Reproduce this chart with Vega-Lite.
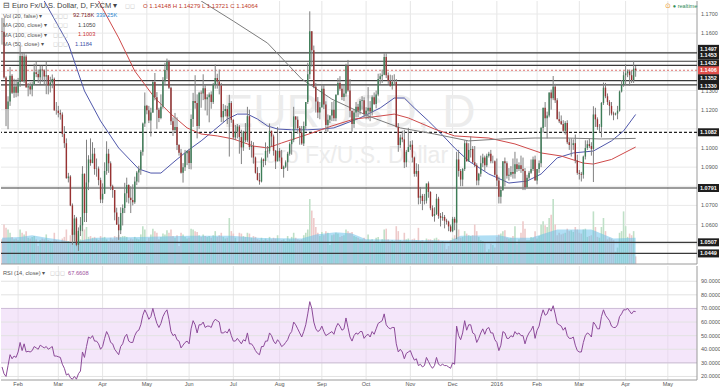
{
"$schema":"https://vega.github.io/schema/vega-lite/v6.json",
"padding":0,
"background":"#ffffff",
"spacing":0,
"config":{"view":{"stroke":null},"font":"Liberation Sans","axis":{"disable":true},"text":{"font":"Liberation Sans"}},
"datasets":{
"p":[
{"t":"2015-01-21","o":1.161,"h":1.168,"l":1.154,"c":1.1607,"v":300,"r":27},
{"t":"2015-01-22","o":1.1607,"h":1.1679,"l":1.1362,"c":1.1368,"v":480,"r":22},
{"t":"2015-01-23","o":1.1368,"h":1.1375,"l":1.1114,"c":1.1204,"v":440,"r":20},
{"t":"2015-01-26","o":1.1204,"h":1.127,"l":1.1098,"c":1.1243,"v":420,"r":28},
{"t":"2015-01-27","o":1.1243,"h":1.1423,"l":1.122,"c":1.1377,"v":380,"r":36},
{"t":"2015-01-28","o":1.1377,"h":1.1386,"l":1.1282,"c":1.1288,"v":330,"r":33},
{"t":"2015-01-29","o":1.1288,"h":1.1362,"l":1.1262,"c":1.1321,"v":300,"r":35},
{"t":"2015-01-30","o":1.1321,"h":1.1358,"l":1.1265,"c":1.1289,"v":310,"r":34},
{"t":"2015-02-02","o":1.1289,"h":1.1366,"l":1.127,"c":1.1345,"v":290,"r":38},
{"t":"2015-02-03","o":1.1345,"h":1.1534,"l":1.1319,"c":1.148,"v":420,"r":45},
{"t":"2015-02-04","o":1.148,"h":1.1497,"l":1.1345,"c":1.1348,"v":380,"r":39},
{"t":"2015-02-05","o":1.1348,"h":1.1498,"l":1.134,"c":1.1478,"v":360,"r":44},
{"t":"2015-02-06","o":1.1478,"h":1.1488,"l":1.1317,"c":1.1316,"v":400,"r":38},
{"t":"2015-02-09","o":1.1316,"h":1.1339,"l":1.127,"c":1.1323,"v":320,"r":38.5},
{"t":"2015-02-10","o":1.1323,"h":1.1343,"l":1.128,"c":1.1306,"v":310,"r":38},
{"t":"2015-02-11","o":1.1306,"h":1.1346,"l":1.127,"c":1.1333,"v":330,"r":39},
{"t":"2015-02-12","o":1.1333,"h":1.144,"l":1.133,"c":1.1395,"v":340,"r":42},
{"t":"2015-02-13","o":1.1395,"h":1.145,"l":1.137,"c":1.1387,"v":300,"r":41},
{"t":"2015-02-16","o":1.1387,"h":1.141,"l":1.134,"c":1.1369,"v":220,"r":40},
{"t":"2015-02-17","o":1.1369,"h":1.143,"l":1.1335,"c":1.141,"v":290,"r":43},
{"t":"2015-02-18","o":1.141,"h":1.143,"l":1.1345,"c":1.1405,"v":310,"r":42},
{"t":"2015-02-19","o":1.1405,"h":1.141,"l":1.133,"c":1.1373,"v":300,"r":41},
{"t":"2015-02-20","o":1.1373,"h":1.145,"l":1.1281,"c":1.138,"v":360,"r":42},
{"t":"2015-02-23","o":1.138,"h":1.138,"l":1.128,"c":1.1327,"v":290,"r":40},
{"t":"2015-02-24","o":1.1327,"h":1.1372,"l":1.129,"c":1.1342,"v":280,"r":41},
{"t":"2015-02-25","o":1.1342,"h":1.1384,"l":1.1312,"c":1.1361,"v":270,"r":42},
{"t":"2015-02-26","o":1.1361,"h":1.1368,"l":1.1196,"c":1.1196,"v":380,"r":35},
{"t":"2015-02-27","o":1.1196,"h":1.124,"l":1.1174,"c":1.1195,"v":290,"r":35},
{"t":"2015-03-02","o":1.1195,"h":1.122,"l":1.116,"c":1.1183,"v":260,"r":34.5},
{"t":"2015-03-03","o":1.1183,"h":1.12,"l":1.1148,"c":1.1175,"v":250,"r":34},
{"t":"2015-03-04","o":1.1175,"h":1.1186,"l":1.1057,"c":1.1073,"v":310,"r":29},
{"t":"2015-03-05","o":1.1073,"h":1.1114,"l":1.1,"c":1.1025,"v":330,"r":26},
{"t":"2015-03-06","o":1.1025,"h":1.105,"l":1.084,"c":1.0842,"v":420,"r":21},
{"t":"2015-03-09","o":1.0842,"h":1.087,"l":1.082,"c":1.0851,"v":280,"r":22},
{"t":"2015-03-10","o":1.0851,"h":1.0858,"l":1.0696,"c":1.07,"v":350,"r":19},
{"t":"2015-03-11","o":1.07,"h":1.071,"l":1.0494,"c":1.0546,"v":430,"r":18},
{"t":"2015-03-12","o":1.0546,"h":1.065,"l":1.051,"c":1.0632,"v":380,"r":20},
{"t":"2015-03-13","o":1.0632,"h":1.064,"l":1.0487,"c":1.0494,"v":400,"r":18},
{"t":"2015-03-16","o":1.0494,"h":1.0585,"l":1.0462,"c":1.0567,"v":360,"r":22},
{"t":"2015-03-17","o":1.0567,"h":1.0639,"l":1.054,"c":1.0596,"v":300,"r":24},
{"t":"2015-03-18","o":1.0596,"h":1.0905,"l":1.0565,"c":1.0865,"v":470,"r":38},
{"t":"2015-03-19","o":1.0865,"h":1.0867,"l":1.0613,"c":1.066,"v":420,"r":34},
{"t":"2015-03-20","o":1.066,"h":1.1043,"l":1.0613,"c":1.082,"v":450,"r":42},
{"t":"2015-03-23","o":1.082,"h":1.0962,"l":1.078,"c":1.094,"v":330,"r":49},
{"t":"2015-03-24","o":1.094,"h":1.105,"l":1.0907,"c":1.0922,"v":340,"r":48},
{"t":"2015-03-25","o":1.0922,"h":1.103,"l":1.092,"c":1.097,"v":320,"r":50},
{"t":"2015-03-26","o":1.097,"h":1.1,"l":1.086,"c":1.089,"v":330,"r":46},
{"t":"2015-03-27","o":1.089,"h":1.0945,"l":1.085,"c":1.0892,"v":310,"r":46},
{"t":"2015-03-30","o":1.0892,"h":1.0903,"l":1.0805,"c":1.0832,"v":290,"r":44},
{"t":"2015-03-31","o":1.0832,"h":1.0845,"l":1.0712,"c":1.0731,"v":340,"r":40},
{"t":"2015-04-01","o":1.0731,"h":1.0815,"l":1.0712,"c":1.0761,"v":320,"r":42},
{"t":"2015-04-02","o":1.0761,"h":1.0925,"l":1.076,"c":1.088,"v":330,"r":48},
{"t":"2015-04-03","o":1.088,"h":1.1035,"l":1.086,"c":1.097,"v":300,"r":53},
{"t":"2015-04-06","o":1.097,"h":1.0995,"l":1.087,"c":1.092,"v":280,"r":50},
{"t":"2015-04-07","o":1.092,"h":1.093,"l":1.078,"c":1.08,"v":320,"r":45},
{"t":"2015-04-08","o":1.08,"h":1.0808,"l":1.074,"c":1.078,"v":300,"r":44},
{"t":"2015-04-09","o":1.078,"h":1.078,"l":1.0622,"c":1.0663,"v":340,"r":40},
{"t":"2015-04-10","o":1.0663,"h":1.0688,"l":1.0598,"c":1.06,"v":330,"r":38},
{"t":"2015-04-13","o":1.06,"h":1.064,"l":1.052,"c":1.057,"v":350,"r":36},
{"t":"2015-04-14","o":1.057,"h":1.069,"l":1.055,"c":1.066,"v":330,"r":42},
{"t":"2015-04-15","o":1.066,"h":1.0705,"l":1.0595,"c":1.0686,"v":340,"r":44},
{"t":"2015-04-16","o":1.0686,"h":1.0818,"l":1.066,"c":1.0763,"v":340,"r":49},
{"t":"2015-04-17","o":1.0763,"h":1.0845,"l":1.0716,"c":1.0807,"v":330,"r":51},
{"t":"2015-04-20","o":1.0807,"h":1.081,"l":1.071,"c":1.074,"v":290,"r":46},
{"t":"2015-04-21","o":1.074,"h":1.08,"l":1.066,"c":1.0728,"v":310,"r":45},
{"t":"2015-04-22","o":1.0728,"h":1.081,"l":1.07,"c":1.0716,"v":300,"r":45},
{"t":"2015-04-23","o":1.0716,"h":1.085,"l":1.0708,"c":1.0825,"v":330,"r":50},
{"t":"2015-04-24","o":1.0825,"h":1.088,"l":1.0806,"c":1.0872,"v":310,"r":53},
{"t":"2015-04-27","o":1.0872,"h":1.0907,"l":1.082,"c":1.0888,"v":300,"r":54},
{"t":"2015-04-28","o":1.0888,"h":1.099,"l":1.086,"c":1.098,"v":360,"r":58},
{"t":"2015-04-29","o":1.098,"h":1.1133,"l":1.096,"c":1.1128,"v":460,"r":65},
{"t":"2015-04-30","o":1.1128,"h":1.129,"l":1.111,"c":1.1221,"v":420,"r":69},
{"t":"2015-05-01","o":1.1221,"h":1.1225,"l":1.1176,"c":1.1197,"v":280,"r":66},
{"t":"2015-05-04","o":1.1197,"h":1.122,"l":1.113,"c":1.1144,"v":320,"r":62},
{"t":"2015-05-05","o":1.1144,"h":1.121,"l":1.106,"c":1.1185,"v":360,"r":64},
{"t":"2015-05-06","o":1.1185,"h":1.135,"l":1.1183,"c":1.1345,"v":430,"r":70},
{"t":"2015-05-07","o":1.1345,"h":1.1392,"l":1.1249,"c":1.1265,"v":400,"r":64},
{"t":"2015-05-08","o":1.1265,"h":1.1292,"l":1.11,"c":1.12,"v":380,"r":59},
{"t":"2015-05-11","o":1.12,"h":1.121,"l":1.1135,"c":1.1157,"v":300,"r":56},
{"t":"2015-05-12","o":1.1157,"h":1.128,"l":1.115,"c":1.1215,"v":330,"r":59},
{"t":"2015-05-13","o":1.1215,"h":1.137,"l":1.1205,"c":1.1349,"v":370,"r":64},
{"t":"2015-05-14","o":1.1349,"h":1.1445,"l":1.133,"c":1.1408,"v":360,"r":67},
{"t":"2015-05-15","o":1.1408,"h":1.1467,"l":1.1361,"c":1.145,"v":410,"r":69},
{"t":"2015-05-18","o":1.145,"h":1.146,"l":1.1308,"c":1.1315,"v":380,"r":62},
{"t":"2015-05-19","o":1.1315,"h":1.132,"l":1.112,"c":1.114,"v":420,"r":53},
{"t":"2015-05-20","o":1.114,"h":1.116,"l":1.1063,"c":1.1094,"v":340,"r":50},
{"t":"2015-05-21","o":1.1094,"h":1.1183,"l":1.108,"c":1.111,"v":320,"r":51},
{"t":"2015-05-22","o":1.111,"h":1.116,"l":1.0989,"c":1.1015,"v":350,"r":47},
{"t":"2015-05-25","o":1.1015,"h":1.102,"l":1.096,"c":1.0975,"v":220,"r":46},
{"t":"2015-05-26","o":1.0975,"h":1.0995,"l":1.0866,"c":1.087,"v":380,"r":41},
{"t":"2015-05-27","o":1.087,"h":1.0921,"l":1.0819,"c":1.0899,"v":360,"r":43},
{"t":"2015-05-28","o":1.0899,"h":1.099,"l":1.088,"c":1.0973,"v":330,"r":45},
{"t":"2015-05-29","o":1.0973,"h":1.098,"l":1.091,"c":1.0986,"v":310,"r":46},
{"t":"2015-06-01","o":1.0986,"h":1.0996,"l":1.089,"c":1.0921,"v":320,"r":44},
{"t":"2015-06-02","o":1.0921,"h":1.1175,"l":1.0888,"c":1.1152,"v":430,"r":55},
{"t":"2015-06-03","o":1.1152,"h":1.1288,"l":1.111,"c":1.1245,"v":420,"r":61},
{"t":"2015-06-04","o":1.1245,"h":1.138,"l":1.1205,"c":1.1235,"v":400,"r":58},
{"t":"2015-06-05","o":1.1235,"h":1.128,"l":1.105,"c":1.1115,"v":390,"r":52},
{"t":"2015-06-08","o":1.1115,"h":1.1294,"l":1.11,"c":1.1289,"v":350,"r":58},
{"t":"2015-06-09","o":1.1289,"h":1.13,"l":1.121,"c":1.1284,"v":330,"r":58},
{"t":"2015-06-10","o":1.1284,"h":1.1385,"l":1.125,"c":1.1312,"v":360,"r":60},
{"t":"2015-06-11","o":1.1312,"h":1.133,"l":1.1196,"c":1.1255,"v":340,"r":56},
{"t":"2015-06-12","o":1.1255,"h":1.128,"l":1.117,"c":1.1265,"v":330,"r":57},
{"t":"2015-06-15","o":1.1265,"h":1.129,"l":1.1134,"c":1.128,"v":340,"r":57},
{"t":"2015-06-16","o":1.128,"h":1.1296,"l":1.1205,"c":1.124,"v":320,"r":56},
{"t":"2015-06-17","o":1.124,"h":1.134,"l":1.123,"c":1.133,"v":350,"r":60},
{"t":"2015-06-18","o":1.133,"h":1.1436,"l":1.131,"c":1.1366,"v":400,"r":62},
{"t":"2015-06-19","o":1.1366,"h":1.1388,"l":1.131,"c":1.1347,"v":330,"r":61},
{"t":"2015-06-22","o":1.1347,"h":1.141,"l":1.128,"c":1.1327,"v":350,"r":60},
{"t":"2015-06-23","o":1.1327,"h":1.134,"l":1.1135,"c":1.116,"v":380,"r":52},
{"t":"2015-06-24","o":1.116,"h":1.123,"l":1.1135,"c":1.1193,"v":330,"r":52},
{"t":"2015-06-25","o":1.1193,"h":1.1223,"l":1.1165,"c":1.1203,"v":310,"r":53},
{"t":"2015-06-26","o":1.1203,"h":1.122,"l":1.1125,"c":1.1165,"v":320,"r":52},
{"t":"2015-06-29","o":1.1165,"h":1.1278,"l":1.0955,"c":1.1235,"v":560,"r":55},
{"t":"2015-06-30","o":1.1235,"h":1.1245,"l":1.1131,"c":1.1147,"v":400,"r":50},
{"t":"2015-07-01","o":1.1147,"h":1.115,"l":1.1043,"c":1.1055,"v":370,"r":46},
{"t":"2015-07-02","o":1.1055,"h":1.112,"l":1.1041,"c":1.1085,"v":320,"r":46},
{"t":"2015-07-03","o":1.1085,"h":1.1125,"l":1.105,"c":1.1112,"v":260,"r":48},
{"t":"2015-07-06","o":1.1112,"h":1.112,"l":1.097,"c":1.1057,"v":380,"r":46},
{"t":"2015-07-07","o":1.1057,"h":1.1095,"l":1.0916,"c":1.1003,"v":370,"r":44},
{"t":"2015-07-08","o":1.1003,"h":1.109,"l":1.0985,"c":1.1085,"v":340,"r":47},
{"t":"2015-07-09","o":1.1085,"h":1.113,"l":1.103,"c":1.104,"v":330,"r":46},
{"t":"2015-07-10","o":1.104,"h":1.1215,"l":1.103,"c":1.1166,"v":380,"r":52},
{"t":"2015-07-13","o":1.1166,"h":1.12,"l":1.099,"c":1.1005,"v":370,"r":44},
{"t":"2015-07-14","o":1.1005,"h":1.1037,"l":1.095,"c":1.101,"v":320,"r":44},
{"t":"2015-07-15","o":1.101,"h":1.103,"l":1.0918,"c":1.095,"v":340,"r":42},
{"t":"2015-07-16","o":1.095,"h":1.0955,"l":1.0866,"c":1.087,"v":330,"r":39},
{"t":"2015-07-17","o":1.087,"h":1.09,"l":1.083,"c":1.0833,"v":300,"r":37},
{"t":"2015-07-20","o":1.0833,"h":1.0869,"l":1.0808,"c":1.0825,"v":290,"r":36},
{"t":"2015-07-21","o":1.0825,"h":1.095,"l":1.082,"c":1.094,"v":320,"r":42},
{"t":"2015-07-22","o":1.094,"h":1.0945,"l":1.09,"c":1.0932,"v":290,"r":42},
{"t":"2015-07-23","o":1.0932,"h":1.1029,"l":1.091,"c":1.0985,"v":310,"r":46},
{"t":"2015-07-24","o":1.0985,"h":1.101,"l":1.095,"c":1.0983,"v":290,"r":46},
{"t":"2015-07-27","o":1.0983,"h":1.1128,"l":1.097,"c":1.109,"v":330,"r":52},
{"t":"2015-07-28","o":1.109,"h":1.109,"l":1.101,"c":1.106,"v":300,"r":50},
{"t":"2015-07-29","o":1.106,"h":1.107,"l":1.096,"c":1.0985,"v":320,"r":46},
{"t":"2015-07-30","o":1.0985,"h":1.099,"l":1.089,"c":1.093,"v":310,"r":44},
{"t":"2015-07-31","o":1.093,"h":1.111,"l":1.093,"c":1.0985,"v":350,"r":47},
{"t":"2015-08-03","o":1.0985,"h":1.1,"l":1.093,"c":1.095,"v":280,"r":45},
{"t":"2015-08-04","o":1.095,"h":1.099,"l":1.089,"c":1.089,"v":290,"r":42},
{"t":"2015-08-05","o":1.089,"h":1.0908,"l":1.0845,"c":1.0902,"v":300,"r":43},
{"t":"2015-08-06","o":1.0902,"h":1.0935,"l":1.0895,"c":1.0925,"v":280,"r":45},
{"t":"2015-08-07","o":1.0925,"h":1.098,"l":1.088,"c":1.097,"v":340,"r":47},
{"t":"2015-08-10","o":1.097,"h":1.103,"l":1.096,"c":1.102,"v":300,"r":51},
{"t":"2015-08-11","o":1.102,"h":1.108,"l":1.0965,"c":1.1042,"v":330,"r":53},
{"t":"2015-08-12","o":1.1042,"h":1.1215,"l":1.103,"c":1.1165,"v":380,"r":60},
{"t":"2015-08-13","o":1.1165,"h":1.1165,"l":1.11,"c":1.1148,"v":320,"r":58},
{"t":"2015-08-14","o":1.1148,"h":1.1165,"l":1.1075,"c":1.1105,"v":300,"r":55},
{"t":"2015-08-17","o":1.1105,"h":1.1115,"l":1.1017,"c":1.1081,"v":290,"r":52},
{"t":"2015-08-18","o":1.1081,"h":1.1115,"l":1.1016,"c":1.1024,"v":300,"r":49},
{"t":"2015-08-19","o":1.1024,"h":1.1138,"l":1.101,"c":1.1115,"v":350,"r":53},
{"t":"2015-08-20","o":1.1115,"h":1.124,"l":1.11,"c":1.124,"v":380,"r":58},
{"t":"2015-08-21","o":1.124,"h":1.1445,"l":1.123,"c":1.1385,"v":420,"r":66},
{"t":"2015-08-24","o":1.1385,"h":1.1714,"l":1.136,"c":1.161,"v":790,"r":75},
{"t":"2015-08-25","o":1.161,"h":1.161,"l":1.1425,"c":1.151,"v":650,"r":70},
{"t":"2015-08-26","o":1.151,"h":1.1535,"l":1.1312,"c":1.132,"v":560,"r":60},
{"t":"2015-08-27","o":1.132,"h":1.134,"l":1.1185,"c":1.1243,"v":450,"r":55},
{"t":"2015-08-28","o":1.1243,"h":1.1266,"l":1.1156,"c":1.1185,"v":380,"r":53},
{"t":"2015-08-31","o":1.1185,"h":1.124,"l":1.115,"c":1.1213,"v":340,"r":54},
{"t":"2015-09-01","o":1.1213,"h":1.1332,"l":1.121,"c":1.131,"v":390,"r":57},
{"t":"2015-09-02","o":1.131,"h":1.133,"l":1.1203,"c":1.1227,"v":350,"r":53},
{"t":"2015-09-03","o":1.1227,"h":1.1244,"l":1.1087,"c":1.112,"v":400,"r":50},
{"t":"2015-09-04","o":1.112,"h":1.1175,"l":1.1085,"c":1.1148,"v":380,"r":51},
{"t":"2015-09-07","o":1.1148,"h":1.117,"l":1.113,"c":1.117,"v":230,"r":52},
{"t":"2015-09-08","o":1.117,"h":1.124,"l":1.114,"c":1.12,"v":350,"r":53},
{"t":"2015-09-09","o":1.12,"h":1.1245,"l":1.114,"c":1.1155,"v":360,"r":51},
{"t":"2015-09-10","o":1.1155,"h":1.128,"l":1.114,"c":1.1278,"v":380,"r":56},
{"t":"2015-09-11","o":1.1278,"h":1.1365,"l":1.1275,"c":1.134,"v":370,"r":59},
{"t":"2015-09-14","o":1.134,"h":1.1375,"l":1.13,"c":1.131,"v":330,"r":57},
{"t":"2015-09-15","o":1.131,"h":1.133,"l":1.125,"c":1.1266,"v":340,"r":54},
{"t":"2015-09-16","o":1.1266,"h":1.133,"l":1.1245,"c":1.1285,"v":350,"r":55},
{"t":"2015-09-17","o":1.1285,"h":1.144,"l":1.1268,"c":1.143,"v":420,"r":63},
{"t":"2015-09-18","o":1.143,"h":1.146,"l":1.1294,"c":1.13,"v":400,"r":56},
{"t":"2015-09-21","o":1.13,"h":1.136,"l":1.116,"c":1.1195,"v":380,"r":49},
{"t":"2015-09-22","o":1.1195,"h":1.1195,"l":1.1085,"c":1.1125,"v":390,"r":46},
{"t":"2015-09-23","o":1.1125,"h":1.1204,"l":1.1105,"c":1.1185,"v":340,"r":50},
{"t":"2015-09-24","o":1.1185,"h":1.124,"l":1.116,"c":1.1215,"v":330,"r":52},
{"t":"2015-09-25","o":1.1215,"h":1.123,"l":1.116,"c":1.1195,"v":320,"r":51},
{"t":"2015-09-28","o":1.1195,"h":1.1255,"l":1.1175,"c":1.1245,"v":300,"r":53},
{"t":"2015-09-29","o":1.1245,"h":1.127,"l":1.12,"c":1.125,"v":300,"r":53},
{"t":"2015-09-30","o":1.125,"h":1.1265,"l":1.116,"c":1.1178,"v":320,"r":48},
{"t":"2015-10-01","o":1.1178,"h":1.1213,"l":1.115,"c":1.1195,"v":290,"r":50},
{"t":"2015-10-02","o":1.1195,"h":1.1318,"l":1.115,"c":1.121,"v":360,"r":51},
{"t":"2015-10-05","o":1.121,"h":1.1245,"l":1.114,"c":1.119,"v":290,"r":49},
{"t":"2015-10-06","o":1.119,"h":1.1275,"l":1.117,"c":1.1265,"v":300,"r":53},
{"t":"2015-10-07","o":1.1265,"h":1.129,"l":1.1225,"c":1.123,"v":280,"r":51},
{"t":"2015-10-08","o":1.123,"h":1.13,"l":1.1207,"c":1.128,"v":320,"r":55},
{"t":"2015-10-09","o":1.128,"h":1.1388,"l":1.127,"c":1.136,"v":330,"r":59},
{"t":"2015-10-12","o":1.136,"h":1.139,"l":1.1335,"c":1.1375,"v":260,"r":60},
{"t":"2015-10-13","o":1.1375,"h":1.141,"l":1.134,"c":1.1382,"v":300,"r":61},
{"t":"2015-10-14","o":1.1382,"h":1.1495,"l":1.138,"c":1.1475,"v":420,"r":66},
{"t":"2015-10-15","o":1.1475,"h":1.1495,"l":1.1365,"c":1.138,"v":430,"r":58},
{"t":"2015-10-16","o":1.138,"h":1.1395,"l":1.1335,"c":1.135,"v":300,"r":56},
{"t":"2015-10-19","o":1.135,"h":1.1383,"l":1.132,"c":1.1325,"v":280,"r":55},
{"t":"2015-10-20","o":1.1325,"h":1.138,"l":1.1305,"c":1.1345,"v":290,"r":56},
{"t":"2015-10-21","o":1.1345,"h":1.1385,"l":1.133,"c":1.1345,"v":280,"r":56},
{"t":"2015-10-22","o":1.1345,"h":1.136,"l":1.1106,"c":1.111,"v":460,"r":44},
{"t":"2015-10-23","o":1.111,"h":1.113,"l":1.098,"c":1.1015,"v":400,"r":38},
{"t":"2015-10-26","o":1.1015,"h":1.107,"l":1.1,"c":1.1055,"v":290,"r":40},
{"t":"2015-10-27","o":1.1055,"h":1.109,"l":1.103,"c":1.1045,"v":280,"r":38},
{"t":"2015-10-28","o":1.1045,"h":1.1095,"l":1.0895,"c":1.0925,"v":380,"r":33},
{"t":"2015-10-29","o":1.0925,"h":1.099,"l":1.09,"c":1.098,"v":300,"r":37},
{"t":"2015-10-30","o":1.098,"h":1.1105,"l":1.098,"c":1.1005,"v":310,"r":38},
{"t":"2015-11-02","o":1.1005,"h":1.1036,"l":1.099,"c":1.1017,"v":260,"r":39},
{"t":"2015-11-03","o":1.1017,"h":1.104,"l":1.0925,"c":1.095,"v":300,"r":35},
{"t":"2015-11-04","o":1.095,"h":1.0955,"l":1.085,"c":1.0865,"v":310,"r":32},
{"t":"2015-11-05","o":1.0865,"h":1.092,"l":1.085,"c":1.088,"v":290,"r":33},
{"t":"2015-11-06","o":1.088,"h":1.0915,"l":1.0705,"c":1.074,"v":440,"r":28},
{"t":"2015-11-09","o":1.074,"h":1.0796,"l":1.0708,"c":1.075,"v":280,"r":29},
{"t":"2015-11-10","o":1.075,"h":1.076,"l":1.0675,"c":1.0723,"v":290,"r":27},
{"t":"2015-11-11","o":1.0723,"h":1.076,"l":1.0705,"c":1.0725,"v":270,"r":28},
{"t":"2015-11-12","o":1.0725,"h":1.0808,"l":1.071,"c":1.0815,"v":310,"r":34},
{"t":"2015-11-13","o":1.0815,"h":1.0825,"l":1.074,"c":1.077,"v":300,"r":31},
{"t":"2015-11-16","o":1.077,"h":1.0774,"l":1.0675,"c":1.0685,"v":300,"r":28},
{"t":"2015-11-17","o":1.0685,"h":1.07,"l":1.064,"c":1.0645,"v":290,"r":26},
{"t":"2015-11-18","o":1.0645,"h":1.069,"l":1.0615,"c":1.0655,"v":310,"r":28},
{"t":"2015-11-19","o":1.0655,"h":1.076,"l":1.065,"c":1.0735,"v":320,"r":34},
{"t":"2015-11-20","o":1.0735,"h":1.0745,"l":1.063,"c":1.0645,"v":300,"r":29},
{"t":"2015-11-23","o":1.0645,"h":1.066,"l":1.059,"c":1.0635,"v":270,"r":28},
{"t":"2015-11-24","o":1.0635,"h":1.0665,"l":1.062,"c":1.064,"v":280,"r":29},
{"t":"2015-11-25","o":1.064,"h":1.065,"l":1.058,"c":1.062,"v":260,"r":28},
{"t":"2015-11-26","o":1.062,"h":1.063,"l":1.06,"c":1.0615,"v":180,"r":28},
{"t":"2015-11-27","o":1.0615,"h":1.062,"l":1.0565,"c":1.059,"v":220,"r":27},
{"t":"2015-11-30","o":1.059,"h":1.06,"l":1.056,"c":1.0565,"v":290,"r":26},
{"t":"2015-12-01","o":1.0565,"h":1.064,"l":1.056,"c":1.063,"v":320,"r":30},
{"t":"2015-12-02","o":1.063,"h":1.064,"l":1.057,"c":1.061,"v":350,"r":29},
{"t":"2015-12-03","o":1.061,"h":1.098,"l":1.0524,"c":1.094,"v":540,"r":57},
{"t":"2015-12-04","o":1.094,"h":1.099,"l":1.085,"c":1.088,"v":420,"r":50},
{"t":"2015-12-07","o":1.088,"h":1.089,"l":1.08,"c":1.0835,"v":320,"r":47},
{"t":"2015-12-08","o":1.0835,"h":1.0895,"l":1.08,"c":1.089,"v":330,"r":52},
{"t":"2015-12-09","o":1.089,"h":1.104,"l":1.088,"c":1.1025,"v":400,"r":61},
{"t":"2015-12-10","o":1.1025,"h":1.104,"l":1.093,"c":1.093,"v":370,"r":54},
{"t":"2015-12-11","o":1.093,"h":1.1025,"l":1.093,"c":1.099,"v":350,"r":58},
{"t":"2015-12-14","o":1.099,"h":1.106,"l":1.095,"c":1.0995,"v":340,"r":58},
{"t":"2015-12-15","o":1.0995,"h":1.101,"l":1.092,"c":1.0925,"v":350,"r":52},
{"t":"2015-12-16","o":1.0925,"h":1.101,"l":1.09,"c":1.091,"v":480,"r":51},
{"t":"2015-12-17","o":1.091,"h":1.092,"l":1.0805,"c":1.083,"v":400,"r":45},
{"t":"2015-12-18","o":1.083,"h":1.087,"l":1.0805,"c":1.0865,"v":330,"r":48},
{"t":"2015-12-21","o":1.0865,"h":1.096,"l":1.085,"c":1.092,"v":290,"r":52},
{"t":"2015-12-22","o":1.092,"h":1.097,"l":1.09,"c":1.095,"v":280,"r":55},
{"t":"2015-12-23","o":1.095,"h":1.096,"l":1.088,"c":1.091,"v":260,"r":51},
{"t":"2015-12-24","o":1.091,"h":1.097,"l":1.09,"c":1.096,"v":150,"r":55},
{"t":"2015-12-28","o":1.096,"h":1.098,"l":1.095,"c":1.097,"v":180,"r":56},
{"t":"2015-12-29","o":1.097,"h":1.099,"l":1.092,"c":1.093,"v":250,"r":52},
{"t":"2015-12-30","o":1.093,"h":1.096,"l":1.092,"c":1.093,"v":230,"r":52},
{"t":"2015-12-31","o":1.093,"h":1.0935,"l":1.0855,"c":1.086,"v":200,"r":47},
{"t":"2016-01-04","o":1.086,"h":1.0945,"l":1.08,"c":1.083,"v":330,"r":45},
{"t":"2016-01-05","o":1.083,"h":1.085,"l":1.071,"c":1.0745,"v":360,"r":39},
{"t":"2016-01-06","o":1.0745,"h":1.08,"l":1.071,"c":1.078,"v":370,"r":43},
{"t":"2016-01-07","o":1.078,"h":1.093,"l":1.0775,"c":1.093,"v":400,"r":53},
{"t":"2016-01-08","o":1.093,"h":1.095,"l":1.08,"c":1.092,"v":410,"r":52},
{"t":"2016-01-11","o":1.092,"h":1.093,"l":1.084,"c":1.0855,"v":320,"r":48},
{"t":"2016-01-12","o":1.0855,"h":1.0895,"l":1.083,"c":1.086,"v":310,"r":48},
{"t":"2016-01-13","o":1.086,"h":1.0905,"l":1.085,"c":1.0875,"v":320,"r":50},
{"t":"2016-01-14","o":1.0875,"h":1.0945,"l":1.084,"c":1.0865,"v":340,"r":49},
{"t":"2016-01-15","o":1.0865,"h":1.098,"l":1.084,"c":1.0915,"v":460,"r":53},
{"t":"2016-01-18","o":1.0915,"h":1.0945,"l":1.0875,"c":1.089,"v":240,"r":51},
{"t":"2016-01-19","o":1.089,"h":1.0925,"l":1.088,"c":1.091,"v":300,"r":52},
{"t":"2016-01-20","o":1.091,"h":1.096,"l":1.087,"c":1.089,"v":380,"r":50},
{"t":"2016-01-21","o":1.089,"h":1.095,"l":1.078,"c":1.088,"v":520,"r":50},
{"t":"2016-01-22","o":1.088,"h":1.0895,"l":1.078,"c":1.0795,"v":430,"r":44},
{"t":"2016-01-25","o":1.0795,"h":1.086,"l":1.0795,"c":1.0845,"v":290,"r":49},
{"t":"2016-01-26","o":1.0845,"h":1.088,"l":1.0835,"c":1.087,"v":290,"r":52},
{"t":"2016-01-27","o":1.087,"h":1.094,"l":1.0865,"c":1.089,"v":330,"r":54},
{"t":"2016-01-28","o":1.089,"h":1.0955,"l":1.088,"c":1.094,"v":320,"r":57},
{"t":"2016-01-29","o":1.094,"h":1.096,"l":1.083,"c":1.083,"v":400,"r":48},
{"t":"2016-02-01","o":1.083,"h":1.089,"l":1.081,"c":1.089,"v":310,"r":54},
{"t":"2016-02-02","o":1.089,"h":1.0935,"l":1.087,"c":1.092,"v":340,"r":57},
{"t":"2016-02-03","o":1.092,"h":1.111,"l":1.09,"c":1.1105,"v":480,"r":64},
{"t":"2016-02-04","o":1.1105,"h":1.121,"l":1.108,"c":1.121,"v":520,"r":69},
{"t":"2016-02-05","o":1.121,"h":1.124,"l":1.111,"c":1.1155,"v":470,"r":65},
{"t":"2016-02-08","o":1.1155,"h":1.119,"l":1.105,"c":1.117,"v":450,"r":66},
{"t":"2016-02-09","o":1.117,"h":1.129,"l":1.116,"c":1.129,"v":560,"r":70},
{"t":"2016-02-10","o":1.129,"h":1.1305,"l":1.12,"c":1.126,"v":600,"r":68},
{"t":"2016-02-11","o":1.126,"h":1.1376,"l":1.125,"c":1.132,"v":790,"r":72},
{"t":"2016-02-12","o":1.132,"h":1.1335,"l":1.1235,"c":1.125,"v":480,"r":66},
{"t":"2016-02-15","o":1.125,"h":1.126,"l":1.115,"c":1.115,"v":350,"r":59},
{"t":"2016-02-16","o":1.115,"h":1.119,"l":1.113,"c":1.114,"v":380,"r":58},
{"t":"2016-02-17","o":1.114,"h":1.117,"l":1.112,"c":1.1125,"v":360,"r":57},
{"t":"2016-02-18","o":1.1125,"h":1.1145,"l":1.108,"c":1.109,"v":370,"r":54},
{"t":"2016-02-19","o":1.109,"h":1.114,"l":1.107,"c":1.113,"v":380,"r":56},
{"t":"2016-02-22","o":1.113,"h":1.1145,"l":1.102,"c":1.103,"v":430,"r":50},
{"t":"2016-02-23","o":1.103,"h":1.105,"l":1.099,"c":1.1015,"v":400,"r":48},
{"t":"2016-02-24","o":1.1015,"h":1.105,"l":1.0955,"c":1.1015,"v":410,"r":48},
{"t":"2016-02-25","o":1.1015,"h":1.1045,"l":1.099,"c":1.1025,"v":390,"r":49},
{"t":"2016-02-26","o":1.1025,"h":1.107,"l":1.092,"c":1.0935,"v":450,"r":43},
{"t":"2016-02-29","o":1.0935,"h":1.0965,"l":1.086,"c":1.087,"v":420,"r":39},
{"t":"2016-03-01","o":1.087,"h":1.0885,"l":1.0835,"c":1.0865,"v":380,"r":38},
{"t":"2016-03-02","o":1.0865,"h":1.0875,"l":1.0825,"c":1.086,"v":370,"r":38},
{"t":"2016-03-03","o":1.086,"h":1.096,"l":1.084,"c":1.0955,"v":420,"r":45},
{"t":"2016-03-04","o":1.0955,"h":1.104,"l":1.094,"c":1.1,"v":430,"r":50},
{"t":"2016-03-07","o":1.1,"h":1.104,"l":1.099,"c":1.102,"v":330,"r":52},
{"t":"2016-03-08","o":1.102,"h":1.105,"l":1.1,"c":1.101,"v":340,"r":51},
{"t":"2016-03-09","o":1.101,"h":1.103,"l":1.096,"c":1.0995,"v":350,"r":49},
{"t":"2016-03-10","o":1.0995,"h":1.1218,"l":1.0822,"c":1.1175,"v":640,"r":60},
{"t":"2016-03-11","o":1.1175,"h":1.121,"l":1.111,"c":1.115,"v":450,"r":58},
{"t":"2016-03-14","o":1.115,"h":1.116,"l":1.1095,"c":1.111,"v":330,"r":55},
{"t":"2016-03-15","o":1.111,"h":1.1125,"l":1.108,"c":1.111,"v":320,"r":55},
{"t":"2016-03-16","o":1.111,"h":1.124,"l":1.1055,"c":1.1235,"v":450,"r":64},
{"t":"2016-03-17","o":1.1235,"h":1.1342,"l":1.1225,"c":1.1315,"v":560,"r":69},
{"t":"2016-03-18","o":1.1315,"h":1.134,"l":1.126,"c":1.127,"v":400,"r":65},
{"t":"2016-03-21","o":1.127,"h":1.1285,"l":1.1225,"c":1.124,"v":300,"r":63},
{"t":"2016-03-22","o":1.124,"h":1.125,"l":1.117,"c":1.122,"v":320,"r":61},
{"t":"2016-03-23","o":1.122,"h":1.124,"l":1.117,"c":1.118,"v":310,"r":57},
{"t":"2016-03-24","o":1.118,"h":1.119,"l":1.1145,"c":1.1175,"v":290,"r":56},
{"t":"2016-03-25","o":1.1175,"h":1.1185,"l":1.117,"c":1.118,"v":150,"r":56},
{"t":"2016-03-28","o":1.118,"h":1.122,"l":1.115,"c":1.1195,"v":200,"r":58},
{"t":"2016-03-29","o":1.1195,"h":1.13,"l":1.119,"c":1.1295,"v":380,"r":64},
{"t":"2016-03-30","o":1.1295,"h":1.1355,"l":1.129,"c":1.133,"v":400,"r":66},
{"t":"2016-03-31","o":1.133,"h":1.14,"l":1.132,"c":1.138,"v":640,"r":69},
{"t":"2016-04-01","o":1.138,"h":1.1438,"l":1.133,"c":1.139,"v":460,"r":69},
{"t":"2016-04-04","o":1.139,"h":1.141,"l":1.137,"c":1.14,"v":330,"r":70},
{"t":"2016-04-05","o":1.14,"h":1.141,"l":1.1325,"c":1.138,"v":370,"r":68},
{"t":"2016-04-06","o":1.138,"h":1.1405,"l":1.134,"c":1.1355,"v":350,"r":66},
{"t":"2016-04-07","o":1.1355,"h":1.1455,"l":1.134,"c":1.1415,"v":400,"r":68},
{"t":"2016-04-08","o":1.14148,"h":1.14279,"l":1.13721,"c":1.14064,"v":93,"r":67.66},
{"t":"2016-04-11"},{"t":"2016-04-12"},{"t":"2016-04-13"},{"t":"2016-04-14"},{"t":"2016-04-15"},
{"t":"2016-04-18"},{"t":"2016-04-19"},{"t":"2016-04-20"},{"t":"2016-04-21"},{"t":"2016-04-22"},
{"t":"2016-04-25"},{"t":"2016-04-26"},{"t":"2016-04-27"},{"t":"2016-04-28"},{"t":"2016-04-29"},
{"t":"2016-05-02"},{"t":"2016-05-03"},{"t":"2016-05-04"},{"t":"2016-05-05"},{"t":"2016-05-06"},
{"t":"2016-05-09"},{"t":"2016-05-10"},{"t":"2016-05-11"},{"t":"2016-05-12"},{"t":"2016-05-13"},
{"t":"2016-05-16"},{"t":"2016-05-17"},{"t":"2016-05-18"},{"t":"2016-05-19"},{"t":"2016-05-20"}
],
"ma":[
{"t":"2015-02-11","k":"MA50","m":1.188},{"t":"2015-02-19","k":"MA50","m":1.1768},{"t":"2015-03-09","k":"MA50","m":1.1543},{"t":"2015-03-19","k":"MA50","m":1.1298},{"t":"2015-03-31","k":"MA50","m":1.1141},{"t":"2015-04-13","k":"MA50","m":1.1},{"t":"2015-04-27","k":"MA50","m":1.089},{"t":"2015-05-05","k":"MA50","m":1.0869},{"t":"2015-05-12","k":"MA50","m":1.0869},{"t":"2015-05-21","k":"MA50","m":1.0932},{"t":"2015-05-29","k":"MA50","m":1.0984},{"t":"2015-06-09","k":"MA50","m":1.1037},{"t":"2015-06-17","k":"MA50","m":1.1089},{"t":"2015-06-26","k":"MA50","m":1.1151},{"t":"2015-07-03","k":"MA50","m":1.1177},{"t":"2015-07-10","k":"MA50","m":1.1177},{"t":"2015-07-17","k":"MA50","m":1.1151},{"t":"2015-07-24","k":"MA50","m":1.1115},{"t":"2015-07-31","k":"MA50","m":1.1099},{"t":"2015-08-11","k":"MA50","m":1.1095},{"t":"2015-08-21","k":"MA50","m":1.1095},{"t":"2015-09-01","k":"MA50","m":1.1099},{"t":"2015-09-09","k":"MA50","m":1.1105},{"t":"2015-09-28","k":"MA50","m":1.1157},{"t":"2015-10-12","k":"MA50","m":1.1209},{"t":"2015-10-21","k":"MA50","m":1.1261},{"t":"2015-10-28","k":"MA50","m":1.1261},{"t":"2015-11-04","k":"MA50","m":1.1209},{"t":"2015-11-13","k":"MA50","m":1.1141},{"t":"2015-11-23","k":"MA50","m":1.1078},{"t":"2015-12-02","k":"MA50","m":1.1},{"t":"2015-12-11","k":"MA50","m":1.0932},{"t":"2015-12-28","k":"MA50","m":1.0864},{"t":"2016-01-12","k":"MA50","m":1.0817},{"t":"2016-01-25","k":"MA50","m":1.0827},{"t":"2016-02-03","k":"MA50","m":1.0864},{"t":"2016-02-15","k":"MA50","m":1.0948},{"t":"2016-02-25","k":"MA50","m":1.0974},{"t":"2016-03-10","k":"MA50","m":1.0984},{"t":"2016-03-23","k":"MA50","m":1.1037},{"t":"2016-03-31","k":"MA50","m":1.1089},{"t":"2016-04-08","k":"MA50","m":1.1175},
{"t":"2015-03-19","k":"MA100","m":1.19},{"t":"2015-03-30","k":"MA100","m":1.1768},{"t":"2015-04-13","k":"MA100","m":1.1575},{"t":"2015-04-23","k":"MA100","m":1.1402},{"t":"2015-05-07","k":"MA100","m":1.1261},{"t":"2015-05-19","k":"MA100","m":1.1177},{"t":"2015-05-29","k":"MA100","m":1.1105},{"t":"2015-06-09","k":"MA100","m":1.1073},{"t":"2015-06-19","k":"MA100","m":1.1063},{"t":"2015-07-01","k":"MA100","m":1.1047},{"t":"2015-07-15","k":"MA100","m":1.101},{"t":"2015-07-24","k":"MA100","m":1.1},{"t":"2015-08-04","k":"MA100","m":1.1026},{"t":"2015-08-12","k":"MA100","m":1.1047},{"t":"2015-08-25","k":"MA100","m":1.1078},{"t":"2015-09-08","k":"MA100","m":1.1115},{"t":"2015-09-23","k":"MA100","m":1.1151},{"t":"2015-10-12","k":"MA100","m":1.1167},{"t":"2015-10-21","k":"MA100","m":1.1177},{"t":"2015-10-30","k":"MA100","m":1.1157},{"t":"2015-11-18","k":"MA100","m":1.1099},{"t":"2015-12-02","k":"MA100","m":1.1063},{"t":"2015-12-28","k":"MA100","m":1.1052},{"t":"2016-01-15","k":"MA100","m":1.1021},{"t":"2016-02-03","k":"MA100","m":1.0974},{"t":"2016-02-17","k":"MA100","m":1.0958},{"t":"2016-03-03","k":"MA100","m":1.0921},{"t":"2016-03-10","k":"MA100","m":1.0916},{"t":"2016-03-23","k":"MA100","m":1.094},{"t":"2016-04-08","k":"MA100","m":1.1005},
{"t":"2015-05-19","k":"MA200","m":1.19},{"t":"2015-06-09","k":"MA200","m":1.1768},{"t":"2015-07-01","k":"MA200","m":1.1663},{"t":"2015-07-24","k":"MA200","m":1.1548},{"t":"2015-08-18","k":"MA200","m":1.136},{"t":"2015-09-08","k":"MA200","m":1.1255},{"t":"2015-10-02","k":"MA200","m":1.1167},{"t":"2015-10-26","k":"MA200","m":1.1105},{"t":"2015-11-18","k":"MA200","m":1.1073},{"t":"2015-12-11","k":"MA200","m":1.1037},{"t":"2016-01-06","k":"MA200","m":1.1047},{"t":"2016-01-29","k":"MA200","m":1.1052},{"t":"2016-02-22","k":"MA200","m":1.1052},{"t":"2016-03-16","k":"MA200","m":1.1047},{"t":"2016-04-08","k":"MA200","m":1.105}
],
"vm":[
{"t":"2015-01-21","v":320},{"t":"2015-02-03","v":330},{"t":"2015-02-11","v":350},{"t":"2015-02-20","v":320},{"t":"2015-03-03","v":295},{"t":"2015-03-11","v":265},{"t":"2015-03-20","v":300},{"t":"2015-03-27","v":320},{"t":"2015-04-28","v":330},{"t":"2015-06-02","v":345},{"t":"2015-06-30","v":345},{"t":"2015-07-21","v":315},{"t":"2015-08-18","v":310},{"t":"2015-08-27","v":360},{"t":"2015-09-10","v":385},{"t":"2015-09-22","v":370},{"t":"2015-10-01","v":300},{"t":"2015-11-30","v":285},{"t":"2015-12-07","v":345},{"t":"2016-01-05","v":350},{"t":"2016-01-13","v":320},{"t":"2016-01-27","v":320},{"t":"2016-02-15","v":420},{"t":"2016-03-09","v":420},{"t":"2016-03-24","v":310},{"t":"2016-04-08","v":320}
],
"mg":[{"t":"2015-02-02","m":"Feb"},{"t":"2015-03-02","m":"Mar"},{"t":"2015-04-01","m":"Apr"},{"t":"2015-05-01","m":"May"},{"t":"2015-06-01","m":"Jun"},{"t":"2015-07-01","m":"Jul"},{"t":"2015-08-03","m":"Aug"},{"t":"2015-09-01","m":"Sep"},{"t":"2015-10-01","m":"Oct"},{"t":"2015-11-02","m":"Nov"},{"t":"2015-12-01","m":"Dec"},{"t":"2016-01-04","m":"2016"},{"t":"2016-02-01","m":"Feb"},{"t":"2016-03-01","m":"Mar"},{"t":"2016-04-01","m":"Apr"},{"t":"2016-05-02","m":"May"}],
"yg":[{"p":1.05},{"p":1.06},{"p":1.07},{"p":1.08},{"p":1.09},{"p":1.1},{"p":1.11},{"p":1.12},{"p":1.13},{"p":1.14},{"p":1.15},{"p":1.16},{"p":1.17}],
"rg":[{"q":20},{"q":30},{"q":40},{"q":50},{"q":60},{"q":70},{"q":80},{"q":90}],
"lv":[{"p":1.1497},{"p":1.1453},{"p":1.1432},{"p":1.1352},{"p":1.133},{"p":1.0791},{"p":1.0507},{"p":1.0449}],
"lb":[{"p":1.1497},{"p":1.1453},{"p":1.1432},{"p":1.1352},{"p":1.133},{"p":1.1082},{"p":1.0791},{"p":1.0507},{"p":1.0449}]
},
"resolve":{"scale":{"x":"shared"}},
"vconcat":[
{
"width":696,"height":263,
"resolve":{"scale":{"y":"independent"}},
"layer":[
{"layer":[
{"data":{"name":"p"},"mark":{"type":"rule","opacity":0},"encoding":{"x":{"field":"t","type":"ordinal","sort":"ascending","scale":{"type":"band","paddingInner":0,"paddingOuter":0},"bandPosition":0.5}}},
{"data":{"name":"mg"},"mark":{"type":"rule","color":"#e6e6e6","strokeWidth":1},"encoding":{"x":{"field":"t","type":"ordinal","sort":"ascending","scale":{"type":"band","paddingInner":0,"paddingOuter":0},"bandPosition":0.5}}},
{"data":{"name":"yg"},"mark":{"type":"rule","color":"#e9e9e9","strokeWidth":1},"encoding":{"y":{"field":"p","type":"quantitative","scale":{"domain":[1.03938,1.17679]}}}},
{"data":{"values":[{}]},"mark":{"type":"text","fontSize":46,"color":"#ececec","baseline":"middle","align":"center"},"encoding":{"x":{"datum":"2015-09-21","type":"ordinal","bandPosition":0},"y":{"datum":1.1183,"type":"quantitative","scale":{"domain":[1.03938,1.17679]}},"text":{"value":"EURUSD, D"}}},
{"data":{"values":[{}]},"mark":{"type":"text","fontSize":23,"color":"#ececec","baseline":"middle","align":"center"},"encoding":{"x":{"datum":"2015-09-21","type":"ordinal","bandPosition":0},"y":{"datum":1.0958,"type":"quantitative","scale":{"domain":[1.03938,1.17679]}},"text":{"value":"Euro Fx/U.S. Dollar"}}}
]},
{"layer":[
{"data":{"name":"p"},"mark":{"type":"bar","width":{"band":0.8}},"encoding":{"x":{"field":"t","type":"ordinal","sort":"ascending","scale":{"type":"band","paddingInner":0,"paddingOuter":0}},"y":{"field":"v","type":"quantitative","scale":{"domain":[0,3200]}},"color":{"condition":{"test":"datum.c>=datum.o","value":"#bfe0c7"},"value":"#eecaca"}}},
{"data":{"name":"vm"},"mark":{"type":"area","color":"#62bde9","opacity":0.5},"encoding":{"x":{"field":"t","type":"ordinal","sort":"ascending","scale":{"type":"band","paddingInner":0,"paddingOuter":0},"bandPosition":0.5},"y":{"field":"v","type":"quantitative","scale":{"domain":[0,3200]}}}}
]},
{"layer":[
{"data":{"values":[{}]},"mark":{"type":"rule","color":"#9a9a9a","strokeWidth":1},"encoding":{"x":{"datum":"2016-05-20","type":"ordinal","bandPosition":1}}},
{"data":{"values":[{}]},"mark":{"type":"rule","color":"#9a9a9a","strokeWidth":1},"encoding":{"y":{"datum":1.03938,"type":"quantitative","scale":{"domain":[1.03938,1.17679]}}}},
{"data":{"name":"lv"},"mark":{"type":"rule","color":"#3a3a3a","strokeWidth":1.2},"encoding":{"y":{"field":"p","type":"quantitative","scale":{"domain":[1.03938,1.17679]}}}},
{"data":{"values":[{"p":1.1082}]},"mark":{"type":"rule","color":"#222222","strokeWidth":1.2,"strokeDash":[3,2]},"encoding":{"y":{"field":"p","type":"quantitative","scale":{"domain":[1.03938,1.17679]}}}},
{"data":{"values":[{"p":1.1406}]},"mark":{"type":"rule","color":"#d9534f","strokeWidth":0.8,"strokeDash":[2,2]},"encoding":{"y":{"field":"p","type":"quantitative","scale":{"domain":[1.03938,1.17679]}}}},
{"data":{"name":"ma"},"mark":{"type":"line","strokeWidth":1,"clip":true},"encoding":{"x":{"field":"t","type":"ordinal","sort":"ascending","scale":{"type":"band","paddingInner":0,"paddingOuter":0},"bandPosition":0.5},"y":{"field":"m","type":"quantitative","scale":{"domain":[1.03938,1.17679]}},"color":{"field":"k","type":"nominal","scale":{"domain":["MA200","MA100","MA50"],"range":["#7c7c7c","#cf4a4a","#4f57ab"]},"legend":null}}},
{"data":{"name":"p"},"mark":{"type":"rule","color":"#808080","strokeWidth":1},"encoding":{"x":{"field":"t","type":"ordinal","sort":"ascending","scale":{"type":"band","paddingInner":0,"paddingOuter":0},"bandPosition":0.5},"y":{"field":"l","type":"quantitative","scale":{"domain":[1.03938,1.17679]}},"y2":{"field":"h"}}},
{"data":{"name":"p"},"mark":{"type":"bar","width":{"band":0.7}},"encoding":{"x":{"field":"t","type":"ordinal","sort":"ascending","scale":{"type":"band","paddingInner":0,"paddingOuter":0}},"y":{"field":"o","type":"quantitative","scale":{"domain":[1.03938,1.17679]}},"y2":{"field":"c"},"color":{"condition":{"test":"datum.c>=datum.o","value":"#3d7d57"},"value":"#983232"}}},
{"data":{"name":"yg"},"transform":[{"filter":"indexof([1.05,1.08,1.11,1.14,1.15],datum.p)<0"}],"mark":{"type":"text","color":"#555555","fontSize":5.5,"align":"left","baseline":"middle","dx":4},"encoding":{"x":{"datum":"2016-05-20","type":"ordinal","bandPosition":1},"y":{"field":"p","type":"quantitative","scale":{"domain":[1.03938,1.17679]}},"text":{"field":"p","type":"quantitative","format":".4f"}}},
{"data":{"name":"lb"},"mark":{"type":"tick","orient":"horizontal","color":"#1e1e1e","opacity":1,"size":21,"thickness":8,"xOffset":11.5,"yOffset":{"expr":"datum.p==1.1497?-4:datum.p==1.1453?-6:datum.p==1.1432?-2:datum.p==1.1352?-2.5:datum.p==1.133?1:0"}},"encoding":{"x":{"value":"width"},"y":{"field":"p","type":"quantitative","scale":{"domain":[1.03938,1.17679]}}}},
{"data":{"name":"lb"},"mark":{"type":"text","color":"#ffffff","fontSize":5.5,"fontWeight":"bold","align":"left","baseline":"middle","dx":3,"yOffset":{"expr":"datum.p==1.1497?-4:datum.p==1.1453?-6:datum.p==1.1432?-2:datum.p==1.1352?-2.5:datum.p==1.133?1:0"}},"encoding":{"x":{"value":"width"},"y":{"field":"p","type":"quantitative","scale":{"domain":[1.03938,1.17679]}},"text":{"field":"p","type":"quantitative","format":".4f"}}},
{"data":{"values":[{"p":1.1406}]},"mark":{"type":"tick","orient":"horizontal","color":"#e0504c","opacity":1,"size":21,"thickness":8,"xOffset":11.5},"encoding":{"x":{"value":"width"},"y":{"field":"p","type":"quantitative","scale":{"domain":[1.03938,1.17679]}}}},
{"data":{"values":[{"p":1.1406}]},"mark":{"type":"text","color":"#ffffff","fontSize":5.5,"fontWeight":"bold","align":"left","baseline":"middle","dx":3},"encoding":{"x":{"value":"width"},"y":{"field":"p","type":"quantitative","scale":{"domain":[1.03938,1.17679]}},"text":{"field":"p","type":"quantitative","format":".4f"}}},
{"data":{"values":[{}]},"mark":{"type":"text","fontSize":7.5,"color":"#444444","align":"left","baseline":"middle","dx":2},"encoding":{"x":{"datum":"2015-01-21","type":"ordinal","bandPosition":0},"y":{"datum":1.17392,"type":"quantitative","scale":{"domain":[1.03938,1.17679]}},"text":{"value":"⊟ Euro Fx/U.S. Dollar, D, FXCM ▾"}}},
{"data":{"values":[{}]},"mark":{"type":"text","fontSize":6,"color":"#c8c8c8","align":"left","baseline":"middle","dx":124},"encoding":{"x":{"datum":"2015-01-21","type":"ordinal","bandPosition":0},"y":{"datum":1.17392,"type":"quantitative","scale":{"domain":[1.03938,1.17679]}},"text":{"value":"◻◻"}}},
{"data":{"values":[{}]},"mark":{"type":"text","fontSize":6,"color":"#c0392b","align":"left","baseline":"middle","dx":142},"encoding":{"x":{"datum":"2015-01-21","type":"ordinal","bandPosition":0},"y":{"datum":1.17392,"type":"quantitative","scale":{"domain":[1.03938,1.17679]}},"text":{"value":"O 1.14148  H 1.14279  L 1.13721  C 1.14064"}}},
{"data":{"values":[{}]},"mark":{"type":"text","fontSize":5.7,"color":"#555555","align":"left","baseline":"top","dx":2,"lineBreak":"\n","lineHeight":9.5},"encoding":{"x":{"datum":"2015-01-21","type":"ordinal","bandPosition":0},"y":{"datum":1.17073,"type":"quantitative","scale":{"domain":[1.03938,1.17679]}},"text":{"value":"Vol (20, false) ▾\nMA (200, close) ▾\nMA (100, close) ▾\nMA (50, close) ▾"}}},
{"data":{"values":[{}]},"mark":{"type":"text","fontSize":5.7,"color":"#c8c8c8","align":"left","baseline":"top","dx":52,"lineBreak":"\n","lineHeight":9.5},"encoding":{"x":{"datum":"2015-01-21","type":"ordinal","bandPosition":0},"y":{"datum":1.17073,"type":"quantitative","scale":{"domain":[1.03938,1.17679]}},"text":{"value":"◻◻◻\n◻◻◻\n◻◻◻\n◻◻◻"}}},
{"data":{"values":[{}]},"mark":{"type":"text","fontSize":5.7,"color":"#7a2020","align":"left","baseline":"middle","dx":72},"encoding":{"x":{"datum":"2015-01-21","type":"ordinal","bandPosition":0},"y":{"datum":1.16922,"type":"quantitative","scale":{"domain":[1.03938,1.17679]}},"text":{"value":"92.718K"}}},
{"data":{"values":[{}]},"mark":{"type":"text","fontSize":5.7,"color":"#2a86d0","align":"left","baseline":"middle","dx":95},"encoding":{"x":{"datum":"2015-01-21","type":"ordinal","bandPosition":0},"y":{"datum":1.16922,"type":"quantitative","scale":{"domain":[1.03938,1.17679]}},"text":{"value":"339.25K"}}},
{"data":{"values":[{}]},"mark":{"type":"text","fontSize":5.7,"color":"#444444","align":"left","baseline":"middle","dx":77},"encoding":{"x":{"datum":"2015-01-21","type":"ordinal","bandPosition":0},"y":{"datum":1.16425,"type":"quantitative","scale":{"domain":[1.03938,1.17679]}},"text":{"value":"1.1050"}}},
{"data":{"values":[{}]},"mark":{"type":"text","fontSize":5.7,"color":"#cc3333","align":"left","baseline":"middle","dx":77},"encoding":{"x":{"datum":"2015-01-21","type":"ordinal","bandPosition":0},"y":{"datum":1.15929,"type":"quantitative","scale":{"domain":[1.03938,1.17679]}},"text":{"value":"1.1003"}}},
{"data":{"values":[{}]},"mark":{"type":"text","fontSize":5.7,"color":"#3c4fa8","align":"left","baseline":"middle","dx":74},"encoding":{"x":{"datum":"2015-01-21","type":"ordinal","bandPosition":0},"y":{"datum":1.15433,"type":"quantitative","scale":{"domain":[1.03938,1.17679]}},"text":{"value":"1.1184"}}},
{"data":{"values":[{}]},"mark":{"type":"text","fontSize":7,"color":"#f0a030","align":"left","baseline":"middle","dx":-2},"encoding":{"x":{"datum":"2016-05-02","type":"ordinal","bandPosition":0},"y":{"datum":1.17392,"type":"quantitative","scale":{"domain":[1.03938,1.17679]}},"text":{"value":"⊙"}}},
{"data":{"values":[{}]},"mark":{"type":"text","fontSize":5.5,"color":"#2e8b57","align":"left","baseline":"middle","dx":6},"encoding":{"x":{"datum":"2016-05-02","type":"ordinal","bandPosition":0},"y":{"datum":1.17392,"type":"quantitative","scale":{"domain":[1.03938,1.17679]}},"text":{"value":"● realtime"}}}
]}
]
},
{
"width":696,"height":114,
"layer":[
{"data":{"name":"mg"},"mark":{"type":"rule","color":"#e6e6e6","strokeWidth":1},"encoding":{"x":{"field":"t","type":"ordinal","sort":"ascending","scale":{"type":"band","paddingInner":0,"paddingOuter":0},"bandPosition":0.5}}},
{"data":{"values":[{"v":30}]},"mark":{"type":"rect","color":"#e9cdf6","opacity":0.5},"encoding":{"y":{"field":"v","type":"quantitative","scale":{"domain":[17.4,101.2]}},"y2":{"datum":70}}},
{"data":{"name":"rg"},"mark":{"type":"rule","color":"#e2e2e2","strokeWidth":1},"encoding":{"y":{"field":"q","type":"quantitative","scale":{"domain":[17.4,101.2]}}}},
{"data":{"values":[{"v":30},{"v":70}]},"mark":{"type":"rule","color":"#c9b4d6","strokeWidth":0.8},"encoding":{"y":{"field":"v","type":"quantitative","scale":{"domain":[17.4,101.2]}}}},
{"data":{"values":[{}]},"mark":{"type":"rule","color":"#9a9a9a","strokeWidth":1},"encoding":{"x":{"datum":"2016-05-20","type":"ordinal","bandPosition":1}}},
{"data":{"values":[{}]},"mark":{"type":"rule","color":"#9a9a9a","strokeWidth":1},"encoding":{"y":{"datum":17.4,"type":"quantitative","scale":{"domain":[17.4,101.2]}}}},
{"data":{"name":"p"},"mark":{"type":"line","color":"#8c4a99","strokeWidth":1,"clip":true},"encoding":{"x":{"field":"t","type":"ordinal","sort":"ascending","scale":{"type":"band","paddingInner":0,"paddingOuter":0},"bandPosition":0.5},"y":{"field":"r","type":"quantitative","scale":{"domain":[17.4,101.2]}}}},
{"data":{"name":"rg"},"mark":{"type":"text","color":"#555555","fontSize":5.5,"align":"left","baseline":"middle","dx":4},"encoding":{"x":{"datum":"2016-05-20","type":"ordinal","bandPosition":1},"y":{"field":"q","type":"quantitative","scale":{"domain":[17.4,101.2]}},"text":{"field":"q","type":"quantitative","format":".4f"}}},
{"data":{"name":"mg"},"mark":{"type":"text","color":"#555555","fontSize":5.5,"align":"center","baseline":"middle"},"encoding":{"x":{"field":"t","type":"ordinal","sort":"ascending","scale":{"type":"band","paddingInner":0,"paddingOuter":0},"bandPosition":0.5},"y":{"datum":14.3,"type":"quantitative","scale":{"domain":[17.4,101.2]}},"text":{"field":"m"}}},
{"data":{"values":[{}]},"mark":{"type":"text","fontSize":5.7,"color":"#555555","align":"left","baseline":"middle","dx":2},"encoding":{"x":{"datum":"2015-01-21","type":"ordinal","bandPosition":0},"y":{"datum":96.05,"type":"quantitative","scale":{"domain":[17.4,101.2]}},"text":{"value":"RSI (14, close) ▾"}}},
{"data":{"values":[{}]},"mark":{"type":"text","fontSize":5.7,"color":"#c8c8c8","align":"left","baseline":"middle","dx":49},"encoding":{"x":{"datum":"2015-01-21","type":"ordinal","bandPosition":0},"y":{"datum":96.05,"type":"quantitative","scale":{"domain":[17.4,101.2]}},"text":{"value":"◻◻◻"}}},
{"data":{"values":[{}]},"mark":{"type":"text","fontSize":5.7,"color":"#9c4f9c","align":"left","baseline":"middle","dx":67},"encoding":{"x":{"datum":"2015-01-21","type":"ordinal","bandPosition":0},"y":{"datum":96.05,"type":"quantitative","scale":{"domain":[17.4,101.2]}},"text":{"value":"67.6608"}}}
]
}
]
}
